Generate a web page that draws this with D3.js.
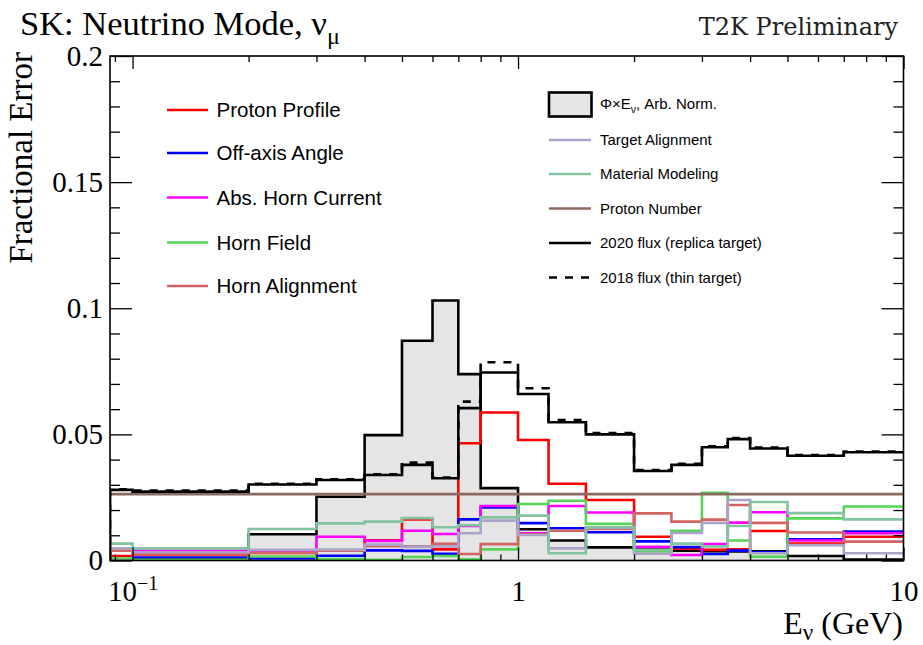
<!DOCTYPE html>
<html>
<head>
<meta charset="utf-8">
<script src="https://cdn.jsdelivr.net/npm/d3@7"></script>
<style>
  html, body { margin: 0; padding: 0; background: #ffffff; }
  svg { display: block; }
</style>
</head>
<body>
<svg id="chart" width="923" height="645"></svg>
<script>
// Neutrino energy bin edges (GeV); the first bin starts at 0
const binEdges = [0, 0.1, 0.2, 0.3, 0.4, 0.5, 0.6, 0.7, 0.8, 1.0, 1.2, 1.5, 2.0, 2.5, 3.0, 3.5, 4.0, 5.0, 7.0, 10.0];

// Flux shape, Phi x E (arbitrary normalisation)
const fluxShape = [0.0003, 0.0008, 0.0104, 0.0253, 0.0497, 0.0871, 0.1031, 0.0739, 0.0287, 0.0124, 0.0079, 0.0052, 0.0045, 0.0039, 0.0037, 0.0036, 0.0036, 0.0018, 0.0004];

// Fractional errors per beam systematic
const protonProfile   = [0.0018, 0.0024, 0.0030, 0.0040, 0.0080, 0.0163, 0.0044, 0.0465, 0.0587, 0.0478, 0.0304, 0.0240, 0.0094, 0.0047, 0.0042, 0.0044, 0.0117, 0.0067, 0.0094];
const offAxisAngle    = [0.0001, 0.0012, 0.0008, 0.0019, 0.0040, 0.0038, 0.0027, 0.0163, 0.0210, 0.0148, 0.0128, 0.0112, 0.0076, 0.0053, 0.0026, 0.0039, 0.0033, 0.0084, 0.0115];
const absHornCurrent  = [0.0004, 0.0038, 0.0038, 0.0094, 0.0078, 0.0118, 0.0105, 0.0137, 0.0216, 0.0108, 0.0216, 0.0190, 0.0054, 0.0022, 0.0065, 0.0150, 0.0191, 0.0079, 0.0108];
const hornField       = [0.0008, 0.0003, 0.0016, 0.0006, 0.0003, 0.0014, 0.0018, 0.0005, 0.0044, 0.0224, 0.0237, 0.0145, 0.0036, 0.0118, 0.0268, 0.0079, 0.0015, 0.0167, 0.0214];
const hornAlignment   = [0.0039, 0.0026, 0.0031, 0.0039, 0.0057, 0.0056, 0.0066, 0.0026, 0.0065, 0.0104, 0.0118, 0.0125, 0.0187, 0.0154, 0.0162, 0.0220, 0.0149, 0.0111, 0.0075];
const targetAlignment = [0.0048, 0.0033, 0.0042, 0.0043, 0.0063, 0.0054, 0.0056, 0.0108, 0.0158, 0.0101, 0.0048, 0.0130, 0.0027, 0.0109, 0.0149, 0.0240, 0.0029, 0.0061, 0.0029];
const materialModel   = [0.0067, 0.0048, 0.0125, 0.0147, 0.0154, 0.0168, 0.0132, 0.0140, 0.0171, 0.0178, 0.0029, 0.0132, 0.0042, 0.0067, 0.0056, 0.0137, 0.0232, 0.0188, 0.0163];
const protonNumber    = [0.0263, 0.0263, 0.0263, 0.0263, 0.0263, 0.0263, 0.0263, 0.0263, 0.0263, 0.0263, 0.0263, 0.0263, 0.0263, 0.0263, 0.0263, 0.0263, 0.0263, 0.0263, 0.0263];

// Total beam-line error, 2020 (replica target) and 2018 (thin target) tunings
const total2020 = [0.0280, 0.0273, 0.0301, 0.0319, 0.0339, 0.0379, 0.0326, 0.0604, 0.0745, 0.0660, 0.0548, 0.0500, 0.0355, 0.0379, 0.0449, 0.0481, 0.0444, 0.0415, 0.0429];
const total2018 = [0.0282, 0.0277, 0.0304, 0.0322, 0.0342, 0.0388, 0.0329, 0.0630, 0.0786, 0.0683, 0.0557, 0.0505, 0.0359, 0.0383, 0.0453, 0.0485, 0.0448, 0.0418, 0.0432];

// Axis ticks
const yMajorTicks = [0, 0.05, 0.1, 0.15, 0.2];
const yMinorTicks = [0.01, 0.02, 0.03, 0.04, 0.06, 0.07, 0.08, 0.09, 0.11, 0.12, 0.13, 0.14, 0.16, 0.17, 0.18, 0.19];
const xMajorTicks = [0.1, 1, 10];
const xMinorTicks = [0.09, 0.2, 0.3, 0.4, 0.5, 0.6, 0.7, 0.8, 0.9, 2, 3, 4, 5, 6, 7, 8, 9];

const svg = d3.select("#chart");
const serif = "'Liberation Serif', 'Times New Roman', serif";
const sans = "'Liberation Sans', Arial, Helvetica, sans-serif";

const frame = { left: 110, right: 903.5, top: 56, bottom: 560.5 };
const xMin = 0.0874, xMax = 10;

const x = d3.scaleLog().domain([xMin, xMax]).range([frame.left, frame.right]);
const y = d3.scaleLinear().domain([0, 0.2]).range([frame.bottom, frame.top]);

svg.append("rect").attr("width", 923).attr("height", 645).attr("fill", "#ffffff");

svg.append("defs").append("clipPath").attr("id", "plotClip")
  .append("rect")
  .attr("x", frame.left).attr("y", frame.top)
  .attr("width", frame.right - frame.left).attr("height", frame.bottom - frame.top);

const plot = svg.append("g").attr("clip-path", "url(#plotClip)");

// Histogram points for a step outline: start from zero at the first edge
function stepPoints(vals) {
  const pts = [[Math.max(binEdges[0], xMin), 0]];
  vals.forEach((v, i) => pts.push([Math.max(binEdges[i], xMin), v]));
  pts.push([binEdges[vals.length], vals[vals.length - 1]]);
  return pts;
}

const stepLine = d3.line()
  .x(d => x(d[0]))
  .y(d => y(d[1]))
  .curve(d3.curveStepAfter);

const stepArea = d3.area()
  .x(d => x(d[0]))
  .y0(y(0))
  .y1(d => y(d[1]))
  .curve(d3.curveStepAfter);

// Flux shape: filled histogram
plot.append("path")
  .attr("d", stepArea(stepPoints(fluxShape)))
  .attr("fill", "#e5e5e5");
plot.append("path")
  .attr("d", stepLine(stepPoints(fluxShape)))
  .attr("fill", "none").attr("stroke", "#000000").attr("stroke-width", 2.6)
  .attr("stroke-linejoin", "miter");

const systematics = [
  { name: "Proton Profile",    vals: protonProfile,   color: "#ff0000" },
  { name: "Off-axis Angle",    vals: offAxisAngle,    color: "#0000ff" },
  { name: "Abs. Horn Current", vals: absHornCurrent,  color: "#ff00ff" },
  { name: "Horn Field",        vals: hornField,       color: "#55d455" },
  { name: "Horn Alignment",    vals: hornAlignment,   color: "#d26464" },
  { name: "Target Alignment",  vals: targetAlignment, color: "#aaa5c8" },
  { name: "Material Modeling", vals: materialModel,   color: "#82c4a2" },
  { name: "Proton Number",     vals: protonNumber,    color: "#8c6a60" }
];

systematics.forEach(s => {
  plot.append("path")
    .attr("d", stepLine(stepPoints(s.vals)))
    .attr("fill", "none")
    .attr("stroke", s.color)
    .attr("stroke-width", 2.6)
    .attr("stroke-linejoin", "miter");
});

// Total errors
plot.append("path")
  .attr("d", stepLine(stepPoints(total2018)))
  .attr("fill", "none").attr("stroke", "#000000").attr("stroke-width", 2.6)
  .attr("stroke-dasharray", "8,8");
plot.append("path")
  .attr("d", stepLine(stepPoints(total2020)))
  .attr("fill", "none").attr("stroke", "#000000").attr("stroke-width", 2.6)
  .attr("stroke-linejoin", "miter");

// Axes (ticks point into the frame, mirrored on top and right)
function styleAxis(g) {
  g.select(".domain").remove();
  g.selectAll(".tick line").attr("stroke", "#000000").attr("stroke-width", 1.3);
  g.selectAll(".tick text").attr("font-family", serif).attr("font-size", 29).attr("fill", "#000000");
}

svg.append("g").attr("transform", `translate(${frame.left},0)`)
  .call(d3.axisLeft(y).tickValues(yMajorTicks).tickSize(-22).tickPadding(7)
    .tickFormat(d => d === 0 ? "0" : String(+d.toFixed(2))))
  .call(styleAxis);
svg.append("g").attr("transform", `translate(${frame.left},0)`)
  .call(d3.axisLeft(y).tickValues(yMinorTicks).tickSize(-10).tickFormat(""))
  .call(styleAxis);
svg.append("g").attr("transform", `translate(${frame.right},0)`)
  .call(d3.axisRight(y).tickValues(yMajorTicks).tickSize(-22).tickFormat(""))
  .call(styleAxis);
svg.append("g").attr("transform", `translate(${frame.right},0)`)
  .call(d3.axisRight(y).tickValues(yMinorTicks).tickSize(-10).tickFormat(""))
  .call(styleAxis);

const xAxisBottom = svg.append("g").attr("transform", `translate(0,${frame.bottom})`)
  .call(d3.axisBottom(x).tickValues(xMajorTicks).tickSize(-13).tickPadding(20)
    .tickFormat(d => d === 0.1 ? "" : String(d)))
  .call(styleAxis);
svg.append("g").attr("transform", `translate(0,${frame.bottom})`)
  .call(d3.axisBottom(x).tickValues(xMinorTicks).tickSize(-6).tickFormat(""))
  .call(styleAxis);
svg.append("g").attr("transform", `translate(0,${frame.top})`)
  .call(d3.axisTop(x).tickValues(xMajorTicks).tickSize(-13).tickFormat(""))
  .call(styleAxis);
svg.append("g").attr("transform", `translate(0,${frame.top})`)
  .call(d3.axisTop(x).tickValues(xMinorTicks).tickSize(-6).tickFormat(""))
  .call(styleAxis);

// 10^-1 label with superscript exponent
xAxisBottom.selectAll(".tick").filter(d => d === 0.1).select("text")
  .each(function() {
    const t = d3.select(this);
    t.text("");
    t.append("tspan").text("10");
    t.append("tspan").attr("font-size", 20).attr("dy", "-0.55em").text("\u22121");
  });

// Frame
svg.append("rect")
  .attr("x", frame.left).attr("y", frame.top)
  .attr("width", frame.right - frame.left).attr("height", frame.bottom - frame.top)
  .attr("fill", "none").attr("stroke", "#000000").attr("stroke-width", 1.6);

// Titles
const title = svg.append("text")
  .attr("x", 20).attr("y", 35)
  .attr("font-family", serif).attr("font-size", 34.5).attr("fill", "#000000");
title.append("tspan").text("SK: Neutrino Mode, \u03bd");
title.append("tspan").attr("font-size", 24).attr("dy", 9).text("\u03bc");

svg.append("text")
  .attr("x", 898).attr("y", 35)
  .attr("text-anchor", "end")
  .attr("font-family", "'DejaVu Serif', serif").attr("font-size", 24).attr("fill", "#222222")
  .text("T2K Preliminary");

svg.append("text")
  .attr("transform", "translate(32,52) rotate(-90)")
  .attr("text-anchor", "end")
  .attr("font-family", serif).attr("font-size", 33).attr("fill", "#000000")
  .text("Fractional Error");

const xTitle = svg.append("text")
  .attr("x", 903).attr("y", 634)
  .attr("text-anchor", "end")
  .attr("font-family", serif).attr("font-size", 32).attr("fill", "#000000");
xTitle.append("tspan").text("E");
xTitle.append("tspan").attr("font-size", 23).attr("dy", 6).text("\u03bd");
xTitle.append("tspan").attr("dy", -6).text(" (GeV)");

// Left legend: first five systematics
const leftRows = [110, 153, 197.5, 242.5, 286];
systematics.slice(0, 5).forEach((s, i) => {
  const ly = leftRows[i];
  svg.append("line")
    .attr("x1", 167).attr("x2", 208).attr("y1", ly).attr("y2", ly)
    .attr("stroke", s.color).attr("stroke-width", 2.6);
  svg.append("text")
    .attr("x", 216.5).attr("y", ly).attr("dy", "0.36em")
    .attr("font-family", sans).attr("font-size", 20.5).attr("fill", "#000000")
    .text(s.name);
});

// Right legend: flux shape, remaining systematics and totals
const rightRows = [104, 140, 174, 208.5, 243, 277.5];
svg.append("rect")
  .attr("x", 549).attr("y", 92.5).attr("width", 42.5).attr("height", 24)
  .attr("fill", "#e5e5e5").attr("stroke", "#000000").attr("stroke-width", 2.6);
const fluxLabel = svg.append("text")
  .attr("x", 600).attr("y", rightRows[0]).attr("dy", "0.36em")
  .attr("font-family", sans).attr("font-size", 15).attr("fill", "#000000");
fluxLabel.append("tspan").text("\u03a6\u00d7E");
fluxLabel.append("tspan").attr("font-size", 10.5).attr("dy", 4).text("\u03bd");
fluxLabel.append("tspan").attr("dy", -4).text(", Arb. Norm.");

const rightEntries = [
  { name: "Target Alignment",          color: "#aaa5c8", dash: null },
  { name: "Material Modeling",         color: "#82c4a2", dash: null },
  { name: "Proton Number",             color: "#8c6a60", dash: null },
  { name: "2020 flux (replica target)", color: "#000000", dash: null },
  { name: "2018 flux (thin target)",   color: "#000000", dash: "8,8" }
];
rightEntries.forEach((e, i) => {
  const ly = rightRows[i + 1];
  svg.append("line")
    .attr("x1", 549).attr("x2", 591).attr("y1", ly).attr("y2", ly)
    .attr("stroke", e.color).attr("stroke-width", 2.6)
    .attr("stroke-dasharray", e.dash);
  svg.append("text")
    .attr("x", 600).attr("y", ly).attr("dy", "0.36em")
    .attr("font-family", sans).attr("font-size", 15).attr("fill", "#000000")
    .text(e.name);
});
</script>
</body>
</html>
